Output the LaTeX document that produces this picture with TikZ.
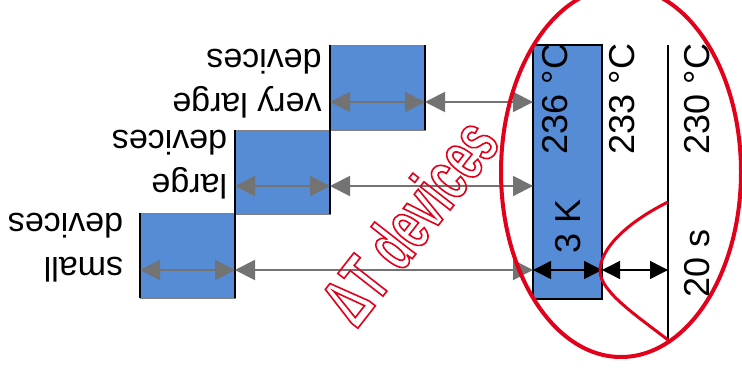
\documentclass[tikz,border=0pt]{standalone}
\usepackage{fontspec}
\setmainfont{Liberation Sans}
\newfontfamily\narrowbold[FakeStretch=0.62]{Liberation Sans Bold}
\usetikzlibrary{arrows.meta}

\definecolor{boxblue}{RGB}{86,140,214}
\definecolor{edgegray}{RGB}{128,128,128}
\definecolor{arrowgray}{RGB}{115,115,115}
\definecolor{ured}{RGB}{226,0,26}

% outlined (stroked, unfilled) text
\newcommand{\hollowtext}[2]{{\color{#1}\special{pdf:literal direct 1 Tr 1.6 w}#2\special{pdf:literal direct 0 Tr}}}

\begin{document}
\begin{tikzpicture}[
  x=1pt, y=-1pt,
  devbox/.style={fill=boxblue, draw=edgegray, line width=1pt},
  hotbox/.style={fill=boxblue, draw=black, line width=2pt},
  sideline/.style={draw=black, line width=2pt},
  garrow/.style={draw=arrowgray, line width=2pt,
    {Triangle[length=20pt,width=20pt]}-{Triangle[length=20pt,width=20pt]}},
  barrow/.style={draw=black, line width=1.5pt,
    {Triangle[length=18pt,width=18pt]}-{Triangle[length=18pt,width=18pt]}},
  sizelabel/.style={rotate=180, align=left, inner sep=0pt,
    font=\fontsize{34}{44}\selectfont},
  templabel/.style={rotate=90, inner sep=0pt,
    font=\fontsize{36}{40}\selectfont},
  ring/.style={draw=ured, line width=4pt},
  profile/.style={draw=ured, line width=3pt},
]
\useasboundingbox[fill=white] (0,0) rectangle (742,378);

% the three device sizes
\path[devbox] (140,213) rectangle (235,298);
\path[devbox] (235,130) rectangle (330,214);
\path[devbox] (330,45) rectangle (425,130);
\draw[sideline] (140,213) -- (140,298);
\draw[sideline] (235,130) -- (235,298);
\draw[sideline] (330,45) -- (330,214);
\draw[sideline] (425,45) -- (425,130);

% oven cross-section
\path[hotbox] (533,45) rectangle (602,299);
\draw[black, line width=1.5pt] (668,45) -- (668,340);

% arrow end points
\coordinate (s0) at (140,270);
\coordinate (s1) at (235,270);
\coordinate (l0) at (235,186);
\coordinate (l1) at (330,186);
\coordinate (v0) at (330,102);
\coordinate (v1) at (425,102);
\coordinate (hs) at (533,270);
\coordinate (hl) at (533,186);
\coordinate (hv) at (533,102);
\coordinate (hr) at (602,270);
\coordinate (wall) at (668,270);

\draw[garrow] (s0) -- (s1);
\draw[garrow] (l0) -- (l1);
\draw[garrow] (v0) -- (v1);
\draw[garrow] (s1) -- (hs);
\draw[garrow] (l1) -- (hl);
\draw[garrow] (v1) -- (hv);
\draw[barrow] (hs) -- (hr);
\draw[barrow] (hr) -- (wall);

% labels of the device sizes
\node[sizelabel] (small) at (65.5,247.5) {small\\devices};
\node[sizelabel] (large) at (169.5,165) {large\\devices};
\node[sizelabel] (vlarge) at (247,83.5) {very large\\devices};

% temperatures and times
\node[templabel] (t236) at (555,99) {236 °C};
\node[templabel] (t233) at (622,99) {233 °C};
\node[templabel] (t230) at (697.5,99) {230 °C};
\node[templabel] (dk) at (568,226) {3 K};
\node[templabel] (dt20) at (697,263) {20 s};

% temperature profile and highlight
\draw[profile] (668,202) .. controls (628,222) and (600,248) .. (600,271)
  .. controls (600,292) and (640,318) .. (668,340);
\draw[ring] (621,172) ellipse [x radius=120pt, y radius=185pt];

\node[rotate=52, inner sep=0pt, font=\narrowbold\fontsize{72}{80}\selectfont]
  (deltaT) at (409,221) {\hollowtext{ured}{ΔT devices}};
\end{tikzpicture}
\end{document}
